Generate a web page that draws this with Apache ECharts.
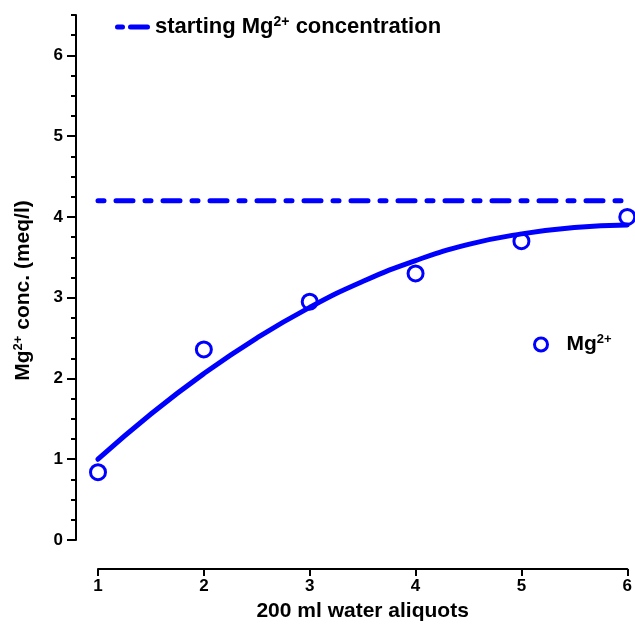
<!DOCTYPE html>
<html>
<head>
<meta charset="utf-8">
<script src="https://cdn.jsdelivr.net/npm/echarts@6/dist/echarts.min.js"></script>
<style>html,body{margin:0;padding:0;background:#fff}#c{width:635px;height:628px}</style>
</head>
<body>
<div id="c"></div>
<script>
// Measured data points
const aliquots = [1, 2, 3, 4, 5, 6];
const mgConc = [0.84, 2.36, 2.95, 3.30, 3.70, 4.00];
// Fitted curve
const fitX = [1, 1.5, 2, 2.5, 3, 3.5, 4, 4.5, 5, 5.5, 6];
const fitY = [1.00, 1.56, 2.06, 2.50, 2.88, 3.20, 3.46, 3.66, 3.79, 3.87, 3.90];
// Starting concentration
const startX = [1, 6];
const startConc = 4.2;
const yLabelTicks = [0, 1, 2, 3, 4, 5, 6];
const xTicks = [1, 2, 3, 4, 5, 6];

const BLUE = '#0000ff';
const FONT = 'Liberation Sans, Arial, sans-serif';

const chart = echarts.init(document.getElementById('c'), null, {renderer: 'canvas'});
const minorVals = [];
for (let v = 0; v <= 6.5 + 1e-9; v += 0.25) minorVals.push(+v.toFixed(2));

const supRich = (big, small, pad) => ({
  a: {color: '#000', fontWeight: 'bold', fontSize: big, fontFamily: FONT},
  s: {color: '#000', fontWeight: 'bold', fontSize: small, fontFamily: FONT, verticalAlign: 'top', padding: [0, 0, pad, 0]}
});

chart.setOption({
  animation: false,
  backgroundColor: '#fff',
  grid: {left: 98, right: 5, top: 15, bottom: 88, containLabel: false},
  xAxis: {
    type: 'value', min: 1, max: 6, interval: 1, offset: 29,
    axisLine: {show: true, onZero: false, lineStyle: {color: '#000', width: 2}},
    axisTick: {show: true, length: 7, inside: false, lineStyle: {color: '#000', width: 2}, customValues: xTicks},
    axisLabel: {color: '#000', fontWeight: 'bold', fontSize: 17, fontFamily: FONT, margin: 9, customValues: xTicks},
    splitLine: {show: false},
    name: '200 ml water aliquots', nameLocation: 'middle', nameGap: 32,
    nameTextStyle: {color: '#000', fontWeight: 'bold', fontSize: 21, fontFamily: FONT}
  },
  yAxis: [{
    type: 'value', min: 0, max: 6.5, offset: 22,
    axisLine: {show: true, onZero: false, lineStyle: {color: '#000', width: 2}},
    axisTick: {show: true, length: 5, lineStyle: {color: '#000', width: 2}, customValues: minorVals},
    axisLabel: {color: '#000', fontWeight: 'bold', fontSize: 17, fontFamily: FONT, margin: 13, customValues: yLabelTicks},
    splitLine: {show: false},
    name: '{a|Mg}{s|2+}{a| conc. (meq/l)}', nameLocation: 'middle', nameGap: 42,
    nameTextStyle: {
      color: '#000', fontWeight: 'bold', fontSize: 21, fontFamily: FONT, padding: [0, 26, 0, 0],
      rich: supRich(21, 13, 9)
    }
  }, {
    type: 'value', min: 0, max: 6.5, offset: 22, position: 'left',
    axisLine: {show: false, onZero: false},
    axisTick: {show: true, length: 9, lineStyle: {color: '#000', width: 2}, customValues: yLabelTicks},
    axisLabel: {show: false},
    splitLine: {show: false}
  }],
  legend: [{
    data: [{name: 'starting', icon: 'path://M2.5,0h5a2.5,2.5 0 0 1 0,5h-5a2.5,2.5 0 0 1 0,-5z M15.5,0h17a2.5,2.5 0 0 1 0,5h-17a2.5,2.5 0 0 1 0,-5z'}],
    left: 115, top: 15, padding: 0, itemWidth: 35, itemHeight: 5, itemGap: 4,
    itemStyle: {color: BLUE, borderWidth: 0},
    formatter: () => '{a|starting Mg}{s|2+}{a| concentration}',
    textStyle: {rich: supRich(22, 14, 10)}
  }, {
    data: [{name: 'Mg', icon: 'circle'}],
    left: 533, top: 333, padding: 0, itemWidth: 13, itemHeight: 13, itemGap: 18,
    itemStyle: {color: '#fff', borderColor: BLUE, borderWidth: 3},
    formatter: () => '{a|Mg}{s|2+}',
    textStyle: {padding: [0, 0, 0, 14], rich: supRich(21, 13, 10)}
  }],
  series: [{
    name: 'starting', type: 'line',
    data: startX.map(x => [x, startConc]),
    symbol: 'none', silent: true,
    lineStyle: {color: BLUE, width: 5, type: [6, 12, 17, 12], cap: 'round'},
    itemStyle: {color: BLUE}
  }, {
    name: 'fit', type: 'line', smooth: true,
    data: fitX.map((x, i) => [x, fitY[i]]),
    symbol: 'none',
    lineStyle: {color: BLUE, width: 5, cap: 'round'},
    itemStyle: {color: BLUE}
  }, {
    name: 'Mg', type: 'scatter',
    data: aliquots.map((x, i) => [x, mgConc[i]]),
    symbol: 'circle', symbolSize: 15, clip: false,
    itemStyle: {color: '#fff', borderColor: BLUE, borderWidth: 3, opacity: 1}
  }]
});
</script>
</body>
</html>
